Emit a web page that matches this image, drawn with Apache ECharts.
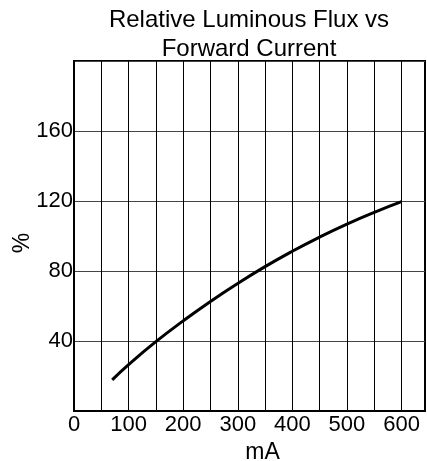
<!DOCTYPE html>
<html>
<head>
<meta charset="utf-8">
<script src="https://cdn.jsdelivr.net/npm/echarts@6/dist/echarts.min.js"></script>
<style>html,body{margin:0;padding:0;background:#fff}#c{width:427px;height:461px}</style>
</head>
<body>
<div id="c"></div>
<script>
const titleText = 'Relative Luminous Flux vs\nForward Current';
const xName = 'mA';
const yName = '%';
const currentMA = [70, 100, 150, 200, 250, 300, 350, 400, 450, 500, 550, 600];
const fluxPct = [17.8, 26.5, 39.6, 51.5, 62.6, 72.9, 82.5, 91.3, 99.4, 106.8, 113.5, 119.6];
const xTickLabels = [0, 100, 200, 300, 400, 500, 600];
const yTickLabels = [40, 80, 120, 160];

const chart = echarts.init(document.getElementById('c'), null, {renderer: 'canvas'});
const font = "'Liberation Sans', Arial, sans-serif";
chart.setOption({
  animation: false,
  backgroundColor: '#fff',
  title: {
    text: titleText,
    left: 249, top: 6, textAlign: 'center', padding: 0,
    textStyle: {fontFamily: font, fontSize: 24, fontWeight: 'normal', color: '#000', lineHeight: 29}
  },
  graphic: [{
    type: 'text', x: 23, y: 243, rotation: Math.PI / 2,
    style: {text: yName, font: "23px 'Liberation Sans', Arial, sans-serif", fill: '#000',
            align: 'center', verticalAlign: 'middle'}
  }],
  grid: {left: 74, top: 61, right: 2, bottom: 50, containLabel: false, outerBoundsMode: 'none',
         show: true, borderColor: '#000', borderWidth: 2, backgroundColor: 'transparent'},
  xAxis: {
    type: 'value', min: 0, max: 643, interval: 50,
    name: xName, nameLocation: 'middle', nameGap: 19,
    nameTextStyle: {fontFamily: font, fontSize: 23, color: '#000', padding: [0, 0, 0, 26]},
    axisLine: {show: true, lineStyle: {color: '#000', width: 2}},
    axisTick: {show: false},
    splitLine: {show: true, lineStyle: {color: '#000', width: 1}},
    axisLabel: {
      margin: 3, fontFamily: font, fontSize: 22, color: '#000', showMaxLabel: false,
      formatter: v => xTickLabels.indexOf(v) >= 0 ? String(v) : ''
    }
  },
  yAxis: {
    type: 'value', min: 0, max: 200, interval: 40,
    axisLine: {show: true, lineStyle: {color: '#000', width: 2}},
    axisTick: {show: false},
    splitLine: {show: true, lineStyle: {color: '#444', width: 1}},
    axisLabel: {
      margin: 1, fontFamily: font, fontSize: 22, color: '#000',
      formatter: v => yTickLabels.indexOf(v) >= 0 ? String(v) : ''
    }
  },
  series: [{
    type: 'line',
    data: currentMA.map((x, i) => [x, fluxPct[i]]),
    smooth: true, symbol: 'none',
    lineStyle: {color: '#000', width: 3}
  }]
});
</script>
</body>
</html>
